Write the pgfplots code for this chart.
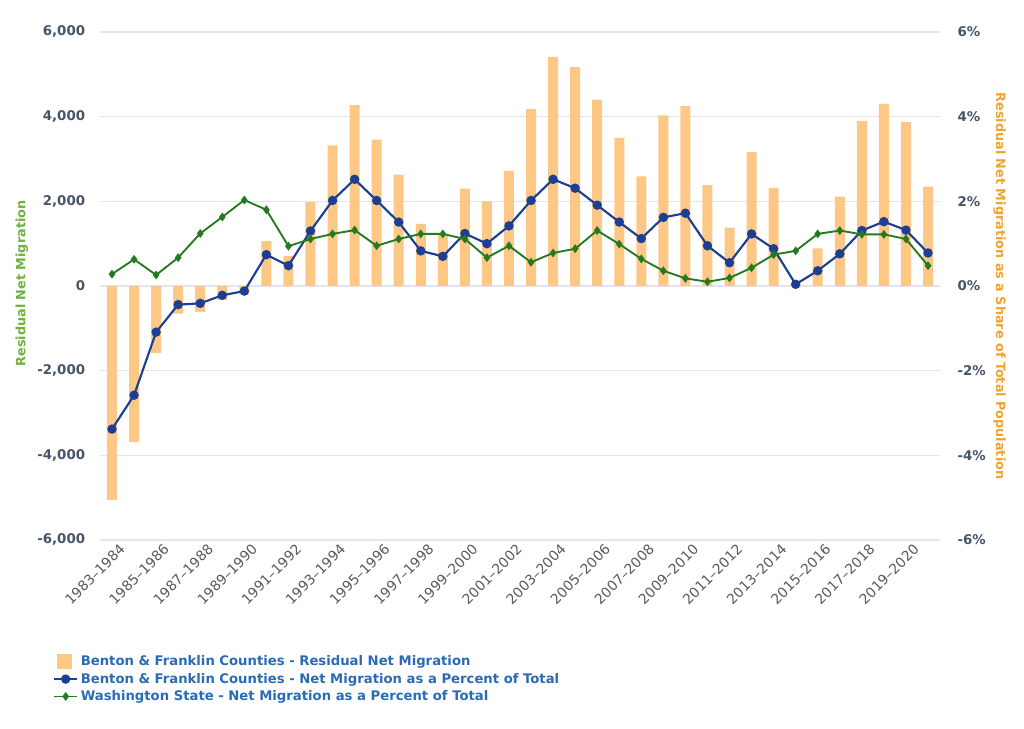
\documentclass[border=0pt]{standalone}
\usepackage{fontspec}
\setmainfont{DejaVu Sans}
\usepackage{pgfplots}
\usepackage{pgfplotstable}
\pgfplotsset{compat=1.18}

\definecolor{barc}{HTML}{FDC886}
\definecolor{bluel}{HTML}{1C3F93}
\definecolor{greenl}{HTML}{237A23}
\definecolor{tickc}{HTML}{44546A}
\definecolor{xtickc}{HTML}{595959}
\definecolor{gridc}{HTML}{E3E5EA}
\definecolor{ltitle}{HTML}{6FB03E}
\definecolor{rtitle}{HTML}{F0A430}
\definecolor{legc}{HTML}{2A6BB5}

% idx = period (0 = 1983-1984 ... 37 = 2020-2021)
\pgfplotstableread{
idx migr   bfpct  wapct
0   -5050  -3.38  0.28
1   -3690  -2.58  0.63
2   -1580  -1.09  0.26
3   -650   -0.44  0.67
4   -610   -0.41  1.24
5   -330   -0.22  1.63
6   -200   -0.12  2.03
7    1060   0.74  1.80
8    710    0.48  0.94
9    1980   1.30  1.11
10   3320   2.02  1.23
11   4270   2.52  1.32
12   3460   2.02  0.95
13   2630   1.51  1.11
14   1470   0.83  1.23
15   1230   0.70  1.23
16   2300   1.24  1.11
17   2000   1.00  0.67
18   2720   1.42  0.95
19   4180   2.02  0.56
20   5410   2.52  0.78
21   5170   2.31  0.88
22   4400   1.91  1.31
23   3500   1.51  0.99
24   2590   1.12  0.64
25   4030   1.62  0.36
26   4250   1.72  0.18
27   2380   0.95  0.10
28   1380   0.55  0.19
29   3160   1.23  0.43
30   2320   0.88  0.74
31   30     0.04  0.83
32   890    0.36  1.23
33   2110   0.76  1.31
34   3900   1.31  1.22
35   4300   1.52  1.22
36   3870   1.32  1.11
37   2350   0.78  0.48
}\datatable

\begin{document}
\begin{tikzpicture}
\pgfplotsset{
  base/.style={
    at={(75pt,141pt)}, anchor=south west,
    width=630pt, height=381pt, scale only axis,
    xmin=-0.544, xmax=37.544,
    axis line style={draw=none},
    tick style={draw=none},
  }
}
% left axis: bars
\begin{axis}[base,
  ymin=-6000, ymax=6000,
  ytick={-6000,-4000,-2000,0,2000,4000,6000},
  yticklabels={{-6,000},{-4,000},{-2,000},{0},{2,000},{4,000},{6,000}},
  yticklabel style={font=\bfseries\fontsize{10}{12}\selectfont, text=tickc, inner sep=0pt, xshift=-11pt},
  ymajorgrids, grid style={gridc, line width=0.9pt},
  xtick={0,2,...,36},
  xticklabels={1983–1984,1985–1986,1987–1988,1989–1990,1991–1992,1993–1994,1995–1996,1997–1998,1999–2000,2001–2002,2003–2004,2005–2006,2007–2008,2009–2010,2011–2012,2013–2014,2015–2016,2017–2018,2019–2020},
  x tick label style={rotate=45, anchor=north east, font=\fontsize{10.4}{12}\selectfont, text=xtickc, inner sep=0pt, yshift=-5pt, xshift=2pt},
  every axis y label/.style={at={(axis description cs:-0.093,0.505)}, rotate=90, anchor=center},
  ylabel={Residual Net Migration},
  ylabel style={font=\bfseries\fontsize{9.6}{12}\selectfont, text=ltitle},
]
\addplot[ybar, bar width=7.5pt, fill=barc, draw=none] table[x=idx, y=migr] {\datatable};
\end{axis}
% right axis: percentage lines
\begin{axis}[base,
  ymin=-6, ymax=6,
  axis x line=none,
  ytick={-6,-4,-2,0,2,4,6},
  yticklabels={{-6\%},{-4\%},{-2\%},{0\%},{2\%},{4\%},{6\%}},
  yticklabel pos=right,
  yticklabel style={font=\bfseries\fontsize{10}{12}\selectfont, text=tickc, inner sep=0pt, xshift=13pt, anchor=west},
  every axis y label/.style={at={(axis description cs:1.071,0.5)}, rotate=-90, anchor=center},
  ylabel={Residual Net Migration as a Share of Total Population},
  ylabel style={font=\bfseries\fontsize{9.6}{12}\selectfont, text=rtitle},
  legend style={at={(axis description cs:-0.056,-0.222)}, anchor=north west,
    draw=none, fill=none, font=\bfseries\fontsize{9.9}{12}\selectfont, text=legc,
    row sep=0pt, inner sep=0pt},
  legend cell align=left,
]
\addlegendimage{legend image code/.code={\fill[barc] (0.08cm,-0.17cm) rectangle (0.45cm,0.2cm);}}
\addlegendentry{Benton \& Franklin Counties - Residual Net Migration}
\addplot[bluel, line width=1.6pt, mark=*, mark size=2.7pt] table[x=idx, y=bfpct] {\datatable};
\addlegendentry{Benton \& Franklin Counties - Net Migration as a Percent of Total}
\addplot[greenl, line width=1.4pt, mark=diamond*, mark size=2.2pt] table[x=idx, y=wapct] {\datatable};
\addlegendentry{Washington State - Net Migration as a Percent of Total}
\end{axis}
\pgfresetboundingbox
\path[use as bounding box] (0,0) rectangle (768pt,546pt);
\end{tikzpicture}
\end{document}
